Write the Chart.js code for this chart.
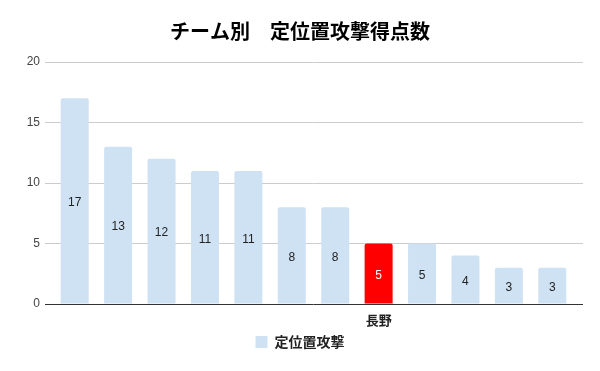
<!DOCTYPE html>
<html>
<head>
<meta charset="utf-8">
<script src="https://cdn.jsdelivr.net/npm/chart.js@4"></script>
<style>
  html, body { margin: 0; padding: 0; background: #fff; }
  #wrap { width: 600px; height: 371px; }
</style>
</head>
<body>
<div id="wrap"><canvas id="myChart"></canvas></div>
<script>
// チーム名は長野以外は表示なし
const teams = ['', '', '', '', '', '', '', '長野', '', '', '', ''];
const points = [17, 13, 12, 11, 11, 8, 8, 5, 5, 4, 3, 3];
const yTicks = [0, 5, 10, 15, 20];
const seriesName = '定位置攻撃';
const highlightTeam = '長野';

const jpFont = "'Noto Sans CJK JP', 'Noto Sans', sans-serif";
const numFont = "'Liberation Sans', Arial, sans-serif";

// 棒の中央に値を描く
const valueLabels = {
  id: 'valueLabels',
  afterDatasetsDraw(chart) {
    const ctx = chart.ctx;
    const meta = chart.getDatasetMeta(0);
    ctx.save();
    ctx.font = '12px ' + numFont;
    ctx.textAlign = 'center';
    ctx.textBaseline = 'middle';
    meta.data.forEach(function (bar, i) {
      ctx.fillStyle = teams[i] === highlightTeam ? '#ffffff' : '#222222';
      ctx.fillText(String(points[i]), bar.x, (bar.y + bar.base) / 2 + 2);
    });
    ctx.restore();
  }
};

const ctx = document.getElementById('myChart');

new Chart(ctx, {
  type: 'bar',
  data: {
    labels: teams,
    datasets: [
      {
        label: seriesName,
        data: points,
        backgroundColor: function (c) {
          if (c.type === 'data' && teams[c.dataIndex] === highlightTeam) return '#ff0000';
          return '#cfe2f3';
        },
        borderRadius: 2,
        categoryPercentage: 1,
        barPercentage: 0.645,
      },
    ],
  },
  options: {
    responsive: true,
    maintainAspectRatio: false,
    animation: false,
    layout: { padding: { left: 0, right: 0, top: 0, bottom: 12 } },
    plugins: {
      title: {
        display: true,
        text: 'チーム別　定位置攻撃得点数',
        color: '#000',
        font: { family: jpFont, size: 20, weight: 'bold' },
        padding: { top: 19, bottom: 19 },
      },
      legend: {
        position: 'bottom',
        labels: {
          boxWidth: 12,
          boxHeight: 12,
          padding: 5,
          color: '#222',
          font: { family: jpFont, size: 14, weight: 'bold' },
        },
      },
      tooltip: { enabled: false },
    },
    scales: {
      x: {
        grid: { display: false },
        border: { display: false },
        ticks: {
          color: '#222',
          padding: 0,
          autoSkip: false,
          maxRotation: 0,
          font: { family: jpFont, size: 13, weight: 'bold' },
        },
        afterFit: function (s) { s.height = 26; },
      },
      y: {
        min: yTicks[0],
        max: yTicks[yTicks.length - 1],
        afterBuildTicks: function (s) { s.ticks = yTicks.map(function (v) { return { value: v }; }); },
        grid: {
          color: function (c) { return c.tick && c.tick.value === 0 ? '#333333' : '#cccccc'; },
          tickLength: 8,
        },
        border: { display: false },
        ticks: {
          color: '#444',
          padding: 5,
          font: { family: numFont, size: 12 },
        },
        afterFit: function (s) { s.width = 53; },
      },
      y2: {
        position: 'right',
        min: yTicks[0],
        max: yTicks[yTicks.length - 1],
        afterBuildTicks: function (s) { s.ticks = yTicks.map(function (v) { return { value: v }; }); },
        grid: {
          drawOnChartArea: false,
          color: function (c) { return c.tick && c.tick.value === 0 ? '#333333' : '#cccccc'; },
          tickLength: 9,
        },
        border: { display: false },
        ticks: { display: false },
        afterFit: function (s) { s.width = 26; },
      },
    },
  },
  plugins: [valueLabels],
});
</script>
</body>
</html>
